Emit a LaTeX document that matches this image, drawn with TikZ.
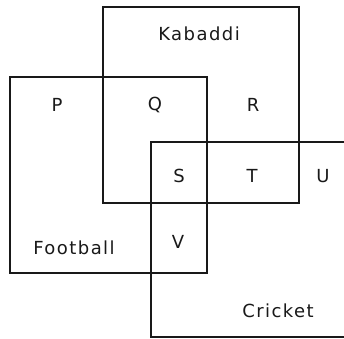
\documentclass[tikz,border=0pt]{standalone}
\usepackage{fontspec}
\newfontfamily\vennfont[LetterSpace=8]{DejaVu Sans}
\usetikzlibrary{positioning}
\definecolor{ink}{RGB}{25,25,25}
\tikzset{
  setbox/.style={draw=ink,line width=1.7pt,inner sep=0pt},
  region/.style={font=\vennfont\fontsize{18}{21}\selectfont,text=ink,inner sep=0pt},
}
\begin{document}
\begin{tikzpicture}[x=1pt,y=-1pt]
  \useasboundingbox (0,0) rectangle (344,338);
  % the three sets
  \node[setbox,minimum width=196pt,minimum height=196pt] (kabaddi) at (201,105) {};
  \node[setbox,minimum width=197pt,minimum height=196pt] (football) at (108.5,175) {};
  \node[setbox,minimum width=197pt,minimum height=195pt] (cricket) at (249.5,239.5) {};
  % set names
  \node[region] (kabaddi label) at (199,34) {Kabaddi};
  \node[region] (football label) at (74,248) {Football};
  \node[region] (cricket label) at (278,311) {Cricket};
  % regions
  \foreach \n/\x/\y in {P/57/105,Q/155/105,R/253/105,S/179/176,T/252/176,U/323/176,V/178/242}
    \node[region] (region \n) at (\x,\y) {\n};
\end{tikzpicture}
\end{document}
